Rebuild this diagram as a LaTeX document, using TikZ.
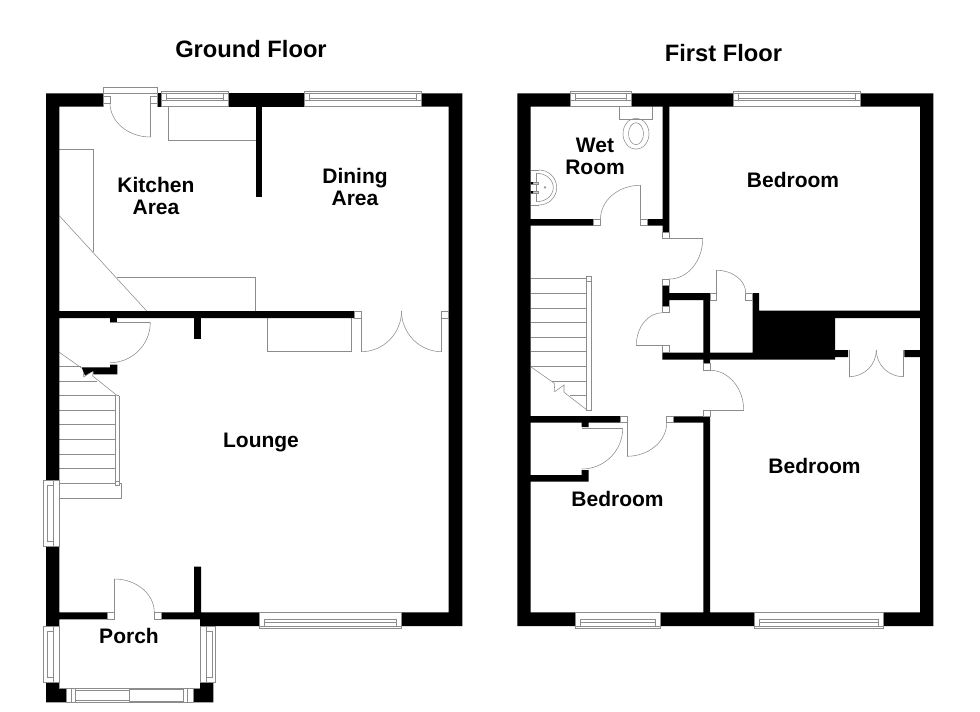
\documentclass[tikz,border=0pt]{standalone}
\usepackage{fontspec}
\setmainfont{Liberation Sans}
\tikzset{
  wall/.style={fill=black,draw=none},
  thin line/.style={draw=black!45,line width=0.55pt},
  jamb/.style={draw=black!45,line width=0.55pt,fill=white},
  lbl/.style={font=\bfseries\fontsize{21}{22}\selectfont,align=center,inner sep=0pt,text=black},
  ttl/.style={font=\bfseries\fontsize{23.7}{26}\selectfont,inner sep=0pt,text=black}
}
% quarter arc from A (#1,#2) to B (#3,#4), tangents meeting at corner C (#5,#6)
\newcommand{\qarc}[6]{%
  \draw[thin line] (#1,#2) .. controls ({#1+0.5523*(#5-#1)},{#2+0.5523*(#6-#2)}) and ({#3+0.5523*(#5-#3)},{#4+0.5523*(#6-#4)}) .. (#3,#4);
}
% window in a horizontal wall: x1,x2,ytop,ybottom,outer face line,inner edge of sash
\newcommand{\hwin}[6]{%
  \filldraw[jamb] (#1,#3) rectangle (#2,#4);
  \draw[thin line] (#1,#5) -- (#2,#5);
  \draw[thin line] (#1+5,#6) rectangle (#2-5,#5);
  \draw[thin line] ({#1+5},{0.62*#6+0.38*#5}) -- ({#2-5},{0.62*#6+0.38*#5});
}
% window in a vertical wall: xleft,xright,y1,y2,xline,xinner
\newcommand{\vwin}[6]{%
  \filldraw[jamb] (#1,#3) rectangle (#2,#4);
  \draw[thin line] (#5,#3) -- (#5,#4);
  \draw[thin line] (#6,#3+5) rectangle (#5,#4-5);
}
\begin{document}
\begin{tikzpicture}[x=1pt,y=-1pt]
\useasboundingbox (0,0) rectangle (980,712);
\fill[white] (0,0) rectangle (980,712);

% ---------- titles ----------
\node[ttl] (gf) at (251,49) {Ground Floor};
\node[ttl] (ff) at (723.5,53) {First Floor};

% ---------- GROUND FLOOR: fittings ----------
\draw[thin line] (168.3,106.7) -- (168.3,140.3) -- (256,140.3);
\draw[thin line] (59.3,149.3) -- (93.3,149.3) -- (93.3,251.7);
\draw[thin line] (59.3,215.7) -- (146.7,311);
\draw[thin line] (117.3,277.3) -- (255.7,277.3) -- (255.7,311);
\draw[thin line] (267.3,318) -- (267.3,351.7) -- (351.7,351.7) -- (351.7,318);
% French doors
\draw[thin line] (361.3,318) -- (361.3,351.7);
\draw[thin line] (441.7,318) -- (441.7,351.7);
\qarc{361.3}{351.7}{401.5}{311}{401.5}{351.7}
\qarc{441.7}{351.7}{401.5}{311}{401.5}{351.7}
% stairs
\foreach \yy/\xx in {366.3/81,381/97,395.7/115.7,410.3/115.7,424.7/115.7,439.3/115.7,454/115.7,468.7/115.7,483/115.7}
  \draw[thin line] (59.3,\yy) -- (\xx,\yy);
\draw[thin line] (59.3,498) -- (121.7,498) -- (121.7,483) -- (115.7,483);
\draw[thin line] (115.7,395.7) -- (115.7,481) (119,395.7) -- (119,481) (117.3,395.7) -- (119,395.7);
\draw[jamb] (115,481) rectangle (119.7,485.3);
\draw[thin line] (59.3,352.3) -- (83,369) -- (83.7,377) -- (93,371) -- (92.7,376) -- (117.3,395.7);

% ---------- GROUND FLOOR: walls ----------
\fill[wall] (46,93.3) -- (103.3,93.3) -- (103.3,106.7) -- (59.3,106.7) -- (59.3,311) -- (354.7,311) -- (354.7,318) -- (59.3,318) -- (59.3,480) -- (46,480) -- cycle;
\fill[wall] (157.3,93.3) rectangle (161,106.7);
\fill[wall] (228,93.3) rectangle (304,106.7);
\fill[wall] (421.3,93.3) -- (462.3,93.3) -- (462.3,626) -- (401.7,626) -- (401.7,612.3) -- (448.7,612.3) -- (448.7,106.7) -- (421.3,106.7) -- cycle;
\fill[wall] (255.7,106.7) rectangle (262.3,197);
\fill[wall] (194,318) rectangle (201,339.3);
\fill[wall] (110,318) rectangle (117.3,321.7);
\fill[wall] (81.7,367.3) -- (110,367.3) -- (110,364.7) -- (117.3,364.7) -- (117.3,374.3) -- (93.5,374.3) -- (93.2,370.8) -- (85,375.5) -- cycle;
\fill[wall] (46,546.7) -- (59.3,546.7) -- (59.3,612.3) -- (107.7,612.3) -- (107.7,619.3) -- (59.3,619.3) -- (59.3,626) -- (46,626) -- cycle;
\fill[wall] (161.3,612.3) -- (194,612.3) -- (194,566.7) -- (201,566.7) -- (201,612.3) -- (259.3,612.3) -- (259.3,626) -- (200,626) -- (200,619.3) -- (161.3,619.3) -- cycle;
\fill[wall] (46,682.3) -- (59.3,682.3) -- (59.3,688.3) -- (66,688.3) -- (66,702.3) -- (46,702.3) -- cycle;
\fill[wall] (193.3,688.3) -- (200,688.3) -- (200,682.3) -- (213.3,682.3) -- (213.3,702.3) -- (193.3,702.3) -- cycle;

% ---------- GROUND FLOOR: doors ----------
\draw[thin line] (103.3,106.7) -- (103.3,87.3) -- (157.3,87.3) -- (157.3,106.7) (103.3,93.3) -- (157.3,93.3);
\draw[jamb] (103.3,96.7) rectangle (110,103);
\draw[jamb] (150.3,96.7) rectangle (157.3,103);
\draw[thin line] (150.3,103) -- (150.3,137);
\qarc{150.3}{137}{110}{103}{110}{137}
\draw[jamb] (354.7,311) rectangle (361.3,318);
\draw[jamb] (441.7,311) rectangle (448.7,318);
\draw[thin line] (110,322.3) -- (150.3,322.3);
\qarc{150.3}{322.3}{110}{362.7}{150.3}{362.7}
\draw[jamb] (107.7,612.3) rectangle (114.3,619.3);
\draw[jamb] (154.3,612.3) rectangle (161.3,619.3);
\draw[thin line] (114.3,612.3) -- (114.3,579);
\qarc{114.3}{579}{154.3}{612.3}{154.3}{579}

% ---------- GROUND FLOOR: windows ----------
\hwin{161.3}{228}{91}{106.7}{93.3}{100.7}
\draw[thin line] (161.3,100.7) -- (228,100.7);
\hwin{304}{421.3}{91}{106.7}{93.3}{100.7}
\draw[thin line] (304,100.7) -- (421.3,100.7);
\hwin{259.3}{401.7}{612.3}{628.3}{626}{619.2}
\vwin{43.3}{59.3}{480}{546.7}{53.3}{47}
\vwin{43.3}{59.3}{626}{682.3}{53.3}{47}
\vwin{200}{215.7}{626}{682.3}{206.7}{212.7}
% porch front window
\draw[thin line] (59.3,688.3) -- (200,688.3);
\filldraw[jamb] (66.3,688.3) rectangle (193.3,702.3);
\draw[thin line] (71.7,688.3) -- (71.7,702.3) (75.7,688.3) -- (75.7,702.3) (183.3,688.3) -- (183.3,702.3) (187.3,688.3) -- (187.3,702.3);
\draw[thin line] (75.7,690) rectangle (129.7,700.3);
\draw[thin line] (129.7,689) rectangle (183.3,701.3);

% ---------- FIRST FLOOR: fittings ----------
\draw[thin line] (619.3,106.7) -- (619.3,119) -- (652.7,119) -- (652.7,106.7);
\draw[thin line] (636,133.7) ellipse (13 and 15.5);
\draw[thin line] (636,133.7) ellipse (7.5 and 11);
% basin
\draw[thin line] (530.7,170) -- (539,170) (530.7,205) -- (539,205);
\qarc{539}{170}{556.7}{187.5}{556.7}{170}
\qarc{556.7}{187.5}{539}{205}{556.7}{205}
\draw[thin line] (536.7,173.3) -- (536.7,201.7);
\qarc{536.7}{173.3}{553.3}{187.5}{553.3}{173.3}
\qarc{553.3}{187.5}{536.7}{201.7}{553.3}{201.7}
\draw[thin line] (545,187.3) circle (0.9);
\draw[thin line,fill=black!20] (531,182) rectangle (538,184);
\draw[thin line,fill=black!20] (531,191) rectangle (538,193.3);
\fill[black] (530.7,182) rectangle (533,184) (530.7,191) rectangle (533,193.3);
% stairs
\foreach \yy/\xx/\xb in {278.7/530.7/586.7,293.3/530.7/586.7,308/530.7/586.7,322.3/530.7/586.7,337.3/530.7/586.7,351.7/530.7/586.7,366.3/530.7/586.7,381/552/586.7,395.3/570/586.7}
  \draw[thin line] (\xx,\yy) -- (\xb,\yy);
\draw[thin line] (586.7,278.7) -- (586.7,410) -- (591,410) -- (591,278.7);
\draw[jamb] (586.3,276) rectangle (591,281.5);
\draw[thin line] (530.7,366.7) -- (554.3,383.3) -- (554.7,391.7) -- (564,385) -- (564,392.3) -- (587,410);

% ---------- FIRST FLOOR: walls ----------
\fill[wall] (517.3,93.3) -- (570.7,93.3) -- (570.7,106.7) -- (530.7,106.7) -- (530.7,219) -- (593.3,219) -- (593.3,225.7) -- (530.7,225.7) -- (530.7,416) -- (620.7,416) -- (620.7,422.7) -- (588.7,422.7) -- (588.7,427) -- (581.7,427) -- (581.7,422.7) -- (530.7,422.7) -- (530.7,475) -- (581.7,475) -- (581.7,470) -- (588.7,470) -- (588.7,481.7) -- (530.7,481.7) -- (530.7,612.3) -- (575.3,612.3) -- (575.3,626) -- (517.3,626) -- cycle;
\fill[wall] (631.3,93.3) -- (733.3,93.3) -- (733.3,106.7) -- (669.3,106.7) -- (669.3,232.3) -- (662.7,232.3) -- (662.7,225.7) -- (647.3,225.7) -- (647.3,219) -- (662.7,219) -- (662.7,106.7) -- (631.3,106.7) -- cycle;
\fill[wall] (860.3,93.3) -- (933.3,93.3) -- (933.3,626) -- (883.3,626) -- (883.3,612.3) -- (920,612.3) -- (920,357) -- (904.3,357) -- (904.3,350) -- (920,350) -- (920,318) -- (835,318) -- (835,350) -- (848,350) -- (848,357) -- (835,357) -- (835,359.5) -- (662.3,359.7) -- (662.3,352.7) -- (752.7,352.7) -- (752.7,300) -- (752.3,293) -- (759,293) -- (759,310.7) -- (920,310.7) -- (920,106.7) -- (860.3,106.7) -- cycle;
\fill[wall] (662.3,285.7) -- (669.3,285.7) -- (669.3,293) -- (710,293) -- (710,363.3) -- (703.3,363.3) -- (703.3,300) -- (669.3,300) -- (669.3,306) -- (662.3,306) -- cycle;
\fill[wall] (673.3,416.3) -- (710,416.3) -- (710,612.3) -- (754.3,612.3) -- (754.3,626) -- (660.3,626) -- (660.3,612.3) -- (703.3,612.3) -- (703.3,422.7) -- (673.3,422.7) -- cycle;

% ---------- FIRST FLOOR: doors ----------
\draw[jamb] (593.3,219) rectangle (600.3,225.7);
\draw[jamb] (640.3,219) rectangle (647.3,225.7);
\draw[thin line] (640.3,219) -- (640.3,185.3);
\qarc{640.3}{185.3}{600.5}{219}{600.5}{185.3}
\draw[jamb] (662.7,232.3) rectangle (669.3,238.7);
\draw[jamb] (662.7,279) rectangle (669.3,285.7);
\draw[thin line] (669.3,238.7) -- (702.7,238.7);
\qarc{702.7}{238.7}{669.3}{279}{702.7}{279}
\draw[jamb] (662.5,306) rectangle (669.3,312.7);
\draw[jamb] (662.5,345.3) rectangle (669.3,352.5);
\draw[thin line] (662.5,345.3) -- (636.3,345.3);
\qarc{636.3}{345.3}{662.5}{312.7}{636.3}{312.7}
\draw[jamb] (710,293) rectangle (716.7,300);
\draw[jamb] (745.7,293) rectangle (752.5,300);
\draw[thin line] (716.7,293) -- (716.7,270.3);
\qarc{716.7}{270.3}{745.7}{293}{745.7}{270.3}
\draw[jamb] (703.3,363.3) rectangle (710,370.3);
\draw[jamb] (703.3,410.3) rectangle (710,416.5);
\draw[thin line] (710,410.3) -- (743.7,410.3);
\qarc{743.7}{410.3}{710}{370.3}{743.7}{370.3}
\draw[jamb] (620.7,416) rectangle (627.3,422.7);
\draw[jamb] (666.7,416.3) rectangle (673.3,422.7);
\draw[thin line] (626.9,422.7) -- (626.9,456.3);
\qarc{626.9}{456.3}{666.7}{422.7}{666.7}{456.3}
\draw[thin line] (581.7,428.3) -- (622.7,428.3);
\qarc{622.7}{428.3}{581.7}{469}{622.7}{469}
\draw[thin line] (849.3,350) -- (849.3,376.7);
\draw[thin line] (903.3,350) -- (903.3,376.7);
\qarc{849.3}{376.7}{876.3}{350}{876.3}{376.7}
\qarc{903.3}{376.7}{876.3}{350}{876.3}{376.7}

% ---------- FIRST FLOOR: windows ----------
\hwin{570.7}{631.3}{91}{106.7}{93.3}{100.7}
\draw[thin line] (570.7,100.7) -- (631.3,100.7);
\hwin{733.3}{860.3}{91}{106.7}{93.3}{100.7}
\draw[thin line] (733.3,100.7) -- (860.3,100.7);
\hwin{575.3}{660.3}{612.3}{628.3}{626}{619.2}
\hwin{754.3}{883.3}{612.3}{628.3}{626}{619.2}

% ---------- labels ----------
\node[lbl] (kit) at (156,196) {Kitchen\\Area};
\node[lbl] (din) at (355,186.5) {Dining\\Area};
\node[lbl] (lou) at (261,442) {Lounge};
\node[lbl] (por) at (129,636) {Porch};
\node[lbl] (wet) at (595,156.5) {Wet\\Room};
\node[lbl] (b1) at (793,180) {Bedroom};
\node[lbl] (b2) at (814.5,465.5) {Bedroom};
\node[lbl] (b3) at (617.5,499) {Bedroom};
\end{tikzpicture}
\end{document}
